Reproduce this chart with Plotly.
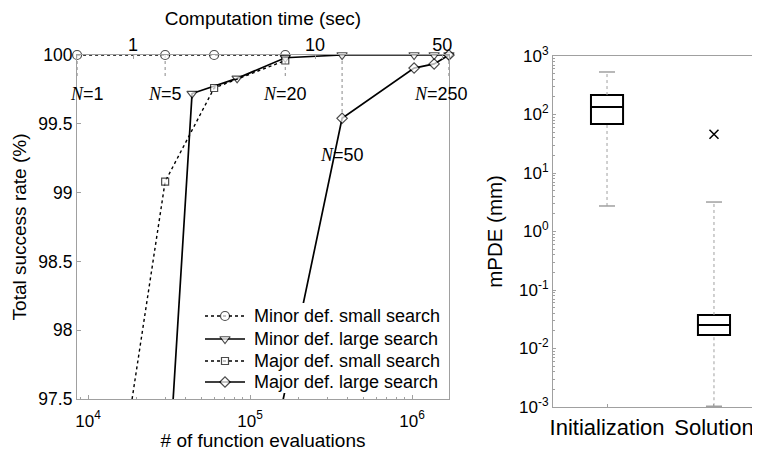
import math
import plotly.graph_objects as go

# ---------------- Left panel data ----------------
minor_small_evals = [8550, 29900, 60000, 165000]
minor_small_rate = [100, 100, 100, 100]
minor_large_evals = [12550, 43850, 83200, 165000, 370000, 1030000, 1370000, 1690000]
minor_large_rate = [89.4, 99.72, 99.83, 99.98, 100, 100, 100, 100]
major_small_evals = [8550, 29900, 60000, 165000]
major_small_rate = [94.87, 99.08, 99.76, 99.96]
major_large_evals = [83200, 370000, 1030000, 1370000, 1690000]
major_large_rate = [95.9, 99.54, 99.905, 99.935, 100]

n_labels = ["1", "5", "20", "50", "250"]
n_label_evals = [8550, 29900, 165000, 370000, 1690000]
n_label_rate = [99.72, 99.72, 99.72, 99.27, 99.72]
n_connector_end = [99.83, 99.83, 99.83, 99.54, 99.83]

time_ticks = [1, 10, 50]
rate_ticks = [97.5, 98, 98.5, 99, 99.5, 100]
eval_ticks = [1e4, 1e5, 1e6]
eval_tick_text = ["10<sup>4</sup>", "10<sup>5</sup>", "10<sup>6</sup>"]

# ---------------- Right panel data ----------------
box_categories = ["Initialization", "Solution"]
box_lower = [2.73, 0.00103]
box_q1 = [69, 0.017]
box_median = [134, 0.0252]
box_q3 = [215, 0.0374]
box_upper = [533, 3.19]
outliers = [[], [46]]
mpde_ticks = [1e-3, 1e-2, 1e-1, 1, 10, 100, 1000]
mpde_tick_text = ["10<sup>-3</sup>", "10<sup>-2</sup>", "10<sup>-1</sup>", "10<sup>0</sup>",
                  "10<sup>1</sup>", "10<sup>2</sup>", "10<sup>3</sup>"]

FONT = "Liberation Sans, Arial, sans-serif"
SERIF = "Liberation Serif, Times New Roman, serif"
GRAY = "#a0a0a0"
YMIN = 97.5
W, H = 760, 452
OFF = 8  # page body margin

# panels in page pixels
LP = dict(l=77, r=449, t=55, b=399)
RP = dict(l=553, r=768, t=56, b=407)

fig = go.Figure()

def sizes(vals, s):
    return [s if v >= YMIN else 0 for v in vals]

series = [
    ("Minor def. small search", minor_small_evals, minor_small_rate, "circle", "dot", 9),
    ("Minor def. large search", minor_large_evals, minor_large_rate, "triangle-down", "solid", 9),
    ("Major def. small search", major_small_evals, major_small_rate, "square", "dot", 7),
    ("Major def. large search", major_large_evals, major_large_rate, "diamond", "solid", 8),
]
def lw(dash):
    return 1.7 if dash == "solid" else 1.4

for name, xs, ys, sym, dash, ms in series:
    fig.add_trace(go.Scatter(
        x=xs, y=ys, name=name, mode="lines+markers",
        line=dict(color="black", width=lw(dash), dash=dash),
        marker=dict(symbol=sym, size=sizes(ys, ms), color="white",
                    line=dict(color="black", width=1.2)),
        cliponaxis=False, xaxis="x", yaxis="y", hoverinfo="skip", showlegend=False))

# invisible trace for top axis
fig.add_trace(go.Scatter(x=[1], y=[100], mode="markers", marker=dict(opacity=0),
                         xaxis="x2", yaxis="y", showlegend=False, hoverinfo="skip"))

# N labels and connectors
shifts = [10, 0, 0, 0, -8]
for lab, xe, yr, ye, sh in zip(n_labels, n_label_evals, n_label_rate, n_connector_end, shifts):
    fig.add_shape(type="line", xref="x", yref="y", x0=xe, x1=xe, y0=100, y1=ye,
                  line=dict(color="#888", width=1, dash="dot"), layer="below")
    fig.add_annotation(x=math.log10(xe), y=yr, xref="x", yref="y",
                       text="<span style='font-family:" + SERIF + "'><i>N</i></span>=" + lab,
                       showarrow=False, xshift=sh, font=dict(family=FONT, size=18, color="black"))

# ---------------- Legend (drawn on a pixel overlay of the left panel) ----------------
leg_rows = [316, 339, 361, 382]
fig.add_trace(go.Scatter(x=[200, 447, 447, 200, 200], y=[303, 303, 393, 393, 303],
                         mode="lines", fill="toself", fillcolor="white",
                         line=dict(width=0, color="white"), xaxis="x4", yaxis="y3",
                         showlegend=False, hoverinfo="skip"))
for (name, xs, ys, sym, dash, ms), ry in zip(series, leg_rows):
    fig.add_trace(go.Scatter(x=[205, 225, 245], y=[ry, ry, ry], mode="lines+markers",
                             line=dict(color="black", width=lw(dash), dash=dash),
                             marker=dict(symbol=sym, size=[0, ms, 0], color="white",
                                         line=dict(color="black", width=1.2)),
                             xaxis="x4", yaxis="y3", showlegend=False, hoverinfo="skip"))
    fig.add_annotation(x=252, y=ry, xref="x4", yref="y3", text=name, showarrow=False,
                       xanchor="left", font=dict(family=FONT, size=18, color="black"))

# ---------------- Right panel boxes ----------------
for i, cat in enumerate(box_categories):
    fig.add_trace(go.Scatter(x=[i, i], y=[box_q3[i], box_upper[i]], mode="lines",
                             line=dict(color=GRAY, width=1, dash="dot"), showlegend=False,
                             xaxis="x3", yaxis="y2", hoverinfo="skip", cliponaxis=False))
    fig.add_trace(go.Scatter(x=[i, i], y=[box_lower[i], box_q1[i]], mode="lines",
                             line=dict(color=GRAY, width=1, dash="dot"), showlegend=False,
                             xaxis="x3", yaxis="y2", hoverinfo="skip", cliponaxis=False))
    for v in (box_upper[i], box_lower[i]):
        fig.add_trace(go.Scatter(x=[i - 0.075, i + 0.075], y=[v, v], mode="lines",
                                 line=dict(color=GRAY, width=1.5), showlegend=False,
                                 xaxis="x3", yaxis="y2", hoverinfo="skip", cliponaxis=False))
    fig.add_trace(go.Box(x=[i], q1=[box_q1[i]], median=[box_median[i]], q3=[box_q3[i]],
                         lowerfence=[box_q1[i]], upperfence=[box_q3[i]], width=0.3,
                         line=dict(color="black", width=2), fillcolor="white",
                         boxpoints=False, showlegend=False, xaxis="x3", yaxis="y2",
                         hoverinfo="skip"))
    if outliers[i]:
        fig.add_trace(go.Scatter(x=[i] * len(outliers[i]), y=outliers[i], mode="markers",
                                 marker=dict(symbol="x-thin-open", size=9, color="black",
                                             line=dict(color="black", width=1.5)),
                                 showlegend=False, xaxis="x3", yaxis="y2", hoverinfo="skip"))

def ax(size=15):
    return dict(showline=True, linecolor=GRAY, linewidth=1.2, showgrid=False,
                zeroline=False, ticks="inside", tickcolor=GRAY, automargin=False,
                tickfont=dict(family=FONT, size=size, color="black"))

def xdom(p):
    return [(p["l"] - OFF) / W, min(1.0, (p["r"] - OFF) / W)]

def ydom(p):
    return [1 - (p["b"] - OFF) / H, 1 - (p["t"] - OFF) / H]

xr0 = math.log10(min(minor_small_evals)) - 0.0005
xr1 = math.log10(max(minor_large_evals)) + 0.0005

fig.update_layout(
    width=W, height=H, margin=dict(l=0, r=0, t=0, b=0, autoexpand=False),
    paper_bgcolor="white", plot_bgcolor="white",
    font=dict(family=FONT, color="black"),
    showlegend=False,
    xaxis=dict(**ax(17), type="log", domain=xdom(LP),
               range=[xr0, xr1], anchor="y", tickvals=eval_ticks,
               ticktext=eval_tick_text, ticklen=4, ticklabelstandoff=6,
               minor=dict(ticks="inside", ticklen=2, tickcolor=GRAY, showgrid=False,
                          tickvals=[k * 10 ** e for e in (3, 4, 5, 6) for k in range(2, 10)]),
               title=dict(text="# of function evaluations", standoff=0,
                          font=dict(family=FONT, size=19, color="black"))),
    xaxis2=dict(**ax(18), type="log", overlaying="x", side="top", anchor="y",
                range=[-0.3077, 1.7363], tickvals=time_ticks,
                ticktext=[str(t) for t in time_ticks], ticklen=4, ticklabelstandoff=-4,
                title=dict(text="Computation time (sec)", standoff=8,
                           font=dict(family=FONT, size=19, color="black"))),
    yaxis=dict(**ax(17.5), domain=ydom(LP), range=[97.5, 100],
               tickvals=rate_ticks, mirror=True, anchor="x", ticklen=4,
               title=dict(text="Total success rate (%)", standoff=6,
                          font=dict(family=FONT, size=19, color="black"))),
    xaxis4=dict(overlaying="x", anchor="y3", range=[LP["l"], LP["r"]], visible=False,
                automargin=False),
    yaxis3=dict(overlaying="y", anchor="x4", range=[LP["b"], LP["t"]], visible=False,
                automargin=False),
    xaxis3=dict(**ax(22), domain=xdom(RP), range=[-0.505, 1.505],
                tickvals=[0, 1], ticktext=box_categories, mirror=True, anchor="y2",
                ticklen=3),
    yaxis2=dict(**ax(17), type="log", domain=ydom(RP),
                range=[-3, 3], tickvals=mpde_ticks, ticktext=mpde_tick_text,
                anchor="x3", ticklen=3,
                minor=dict(ticks="inside", ticklen=2, tickcolor=GRAY, showgrid=False,
                           tickvals=[k * 10 ** e for e in range(-3, 3) for k in range(2, 10)]),
                title=dict(text="mPDE (mm)", standoff=10,
                           font=dict(family=FONT, size=20.5, color="black"))),
)

fig.write_html("out.html")
